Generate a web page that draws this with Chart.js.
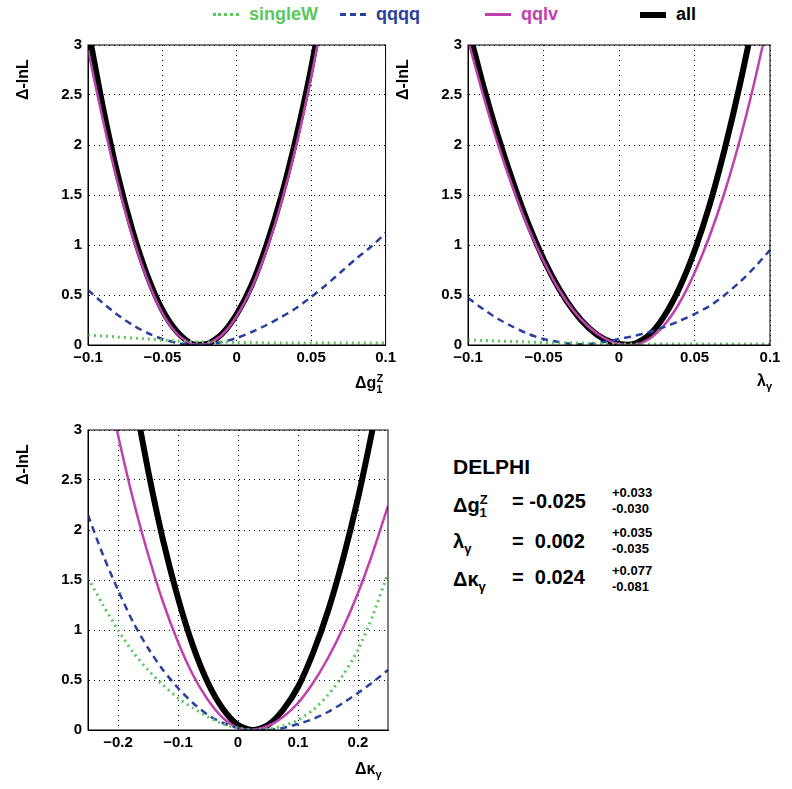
<!DOCTYPE html>
<html><head><meta charset="utf-8">
<script src="https://cdn.jsdelivr.net/npm/chart.js@4"></script>
<style>
body{margin:0;width:792px;height:789px;background:#fff;position:relative;font-family:"Liberation Sans",Arial,sans-serif;font-weight:bold;overflow:hidden}
canvas{position:absolute}
.t{position:absolute;font-weight:bold;color:#000;white-space:nowrap}
.yt{transform:rotate(-90deg);transform-origin:left top;font-size:16px}
.leg{position:absolute;top:4px;font-size:18px;display:flex;align-items:center}
.leg span.l{display:inline-block;width:26px;margin-right:10px}
</style></head><body>
<div class="leg" style="left:213px;color:#5ac85a"><span class="l" style="border-top:3px dotted #5ac85a"></span>singleW</div>
<div class="leg" style="left:340px;color:#2b3f9e"><span class="l" style="border-top:3px dashed #2b3f9e"></span>qqqq</div>
<div class="leg" style="left:485px;color:#c040b0"><span class="l" style="border-top:3px solid #c040b0"></span>qqlv</div>
<div class="leg" style="left:640px;color:#000"><span class="l" style="border-top:6px solid #000"></span>all</div>

<canvas id="c1" width="400" height="400" style="left:0;top:0"></canvas>
<canvas id="c2" width="412" height="400" style="left:380px;top:0"></canvas>
<canvas id="c3" width="400" height="400" style="left:0;top:385px"></canvas>

<div class="t yt" style="left:14px;top:100px">Δ-lnL</div>
<div class="t yt" style="left:394px;top:100px">Δ-lnL</div>
<div class="t yt" style="left:14px;top:485px">Δ-lnL</div>
<div class="t" style="left:355px;top:372px;font-size:16px">Δg<sub style="font-size:11px">1</sub><sup style="font-size:11px;margin-left:-6px">Z</sup></div>
<div class="t" style="left:757px;top:372px;font-size:16px">λ<sub style="font-size:11px">γ</sub></div>
<div class="t" style="left:355px;top:760px;font-size:16px">Δκ<sub style="font-size:11px">γ</sub></div>

<div class="t" style="left:453px;top:455px;font-size:21px">DELPHI</div>
<div class="t" style="left:453px;top:492px;font-size:20px">Δg<sub style="font-size:13px">1</sub><sup style="font-size:13px;margin-left:-7px">Z</sup></div>
<div class="t" style="left:512px;top:490px;font-size:20px">= -0.025</div>
<div class="t" style="left:612px;top:485px;font-size:13px;line-height:16px">+0.033<br>-0.030</div>
<div class="t" style="left:453px;top:530px;font-size:20px">λ<sub style="font-size:13px">γ</sub></div>
<div class="t" style="left:512px;top:530px;font-size:20px">=&nbsp; 0.002</div>
<div class="t" style="left:612px;top:525px;font-size:13px;line-height:16px">+0.035<br>-0.035</div>
<div class="t" style="left:453px;top:568px;font-size:20px">Δκ<sub style="font-size:13px">γ</sub></div>
<div class="t" style="left:512px;top:566px;font-size:20px">=&nbsp; 0.024</div>
<div class="t" style="left:612px;top:563px;font-size:13px;line-height:16px">+0.077<br>-0.081</div>

<script>
// x grids
const xA = [-0.1,-0.09,-0.08,-0.07,-0.06,-0.05,-0.04,-0.03,-0.02,-0.01,0,0.01,0.02,0.03,0.04,0.05,0.06,0.07,0.08,0.09,0.1];
const xK = [-0.25,-0.225,-0.2,-0.175,-0.15,-0.125,-0.1,-0.075,-0.05,-0.025,0,0.025,0.05,0.075,0.1,0.125,0.15,0.175,0.2,0.225,0.25];

// Δg1Z panel
const g1All    = [3.17,2.38,1.70,1.14,0.69,0.35,0.13,0.01,0.01,0.11,0.31,0.60,1.00,1.49,2.08,2.77,3.56,4.3,5,6,7];
const g1Qqlv   = [2.95,2.25,1.62,1.08,0.65,0.32,0.11,0.01,0.01,0.10,0.29,0.57,0.95,1.43,2.00,2.68,3.45,4.2,5,6,7];
const g1Qqqq   = [0.55,0.42,0.30,0.20,0.12,0.06,0.02,0.0,0.0,0.03,0.07,0.13,0.20,0.28,0.37,0.48,0.60,0.73,0.86,0.98,1.12];
const g1Single = [0.10,0.09,0.08,0.07,0.06,0.05,0.04,0.035,0.03,0.03,0.025,0.025,0.02,0.02,0.02,0.02,0.02,0.02,0.02,0.02,0.02];

// λγ panel
const lgAll    = [3.18,2.6,2.08,1.62,1.21,0.86,0.57,0.34,0.17,0.06,0.01,0.01,0.10,0.29,0.57,0.94,1.40,1.96,2.60,3.33,4.2];
const lgQqlv   = [3.05,2.5,2.0,1.56,1.17,0.84,0.56,0.34,0.18,0.07,0.01,0.0,0.06,0.20,0.42,0.72,1.09,1.53,2.05,2.65,3.32];
const lgQqqq   = [0.47,0.36,0.26,0.18,0.11,0.06,0.03,0.01,0.01,0.03,0.06,0.09,0.13,0.18,0.24,0.31,0.39,0.50,0.63,0.78,0.95];
const lgSingle = [0.05,0.045,0.04,0.035,0.03,0.025,0.02,0.02,0.015,0.015,0.01,0.01,0.01,0.01,0.01,0.01,0.01,0.01,0.01,0.01,0.01];

// Δκγ panel
const kgAll    = [6,4.5,4.2,3.40,2.60,1.90,1.32,0.84,0.47,0.21,0.05,0.0,0.05,0.20,0.43,0.77,1.19,1.71,2.32,3.03,3.8];
const kgQqlv   = [4.4,3.65,2.95,2.31,1.76,1.28,0.88,0.55,0.30,0.12,0.02,0.0,0.04,0.13,0.27,0.47,0.72,1.02,1.37,1.78,2.24];
const kgQqqq   = [2.15,1.75,1.40,1.08,0.82,0.60,0.42,0.27,0.15,0.07,0.02,0.0,0.0,0.02,0.06,0.11,0.18,0.27,0.37,0.48,0.60];
const kgSingle = [1.52,1.25,1.0,0.78,0.60,0.45,0.32,0.22,0.13,0.06,0.02,0.0,0.01,0.04,0.10,0.20,0.35,0.55,0.80,1.15,1.57];

const yTicks = [0,0.5,1,1.5,2,2.5,3];
const xTicksA = [-0.1,-0.05,0,0.05,0.1];
const xTicksK = [-0.2,-0.1,0,0.1,0.2];

const pts = (xs, ys) => xs.map((x, i) => ({ x, y: ys[i] }));
const font = { family: "Liberation Sans", size: 15, weight: "bold" };

function ds(xs, ys, color, w, dash) {
  return { data: pts(xs, ys), borderColor: color, borderWidth: w, borderDash: dash,
           showLine: true, pointRadius: 0, tension: 0.25, fill: false };
}

function makeChart(id, xs, sets, xmin, xmax, xticks, padRight) {
  new Chart(document.getElementById(id), {
    type: "scatter",
    data: { datasets: [
      ds(xs, sets[0], "#5ac85a", 3, [2, 4]),
      ds(xs, sets[1], "#2b3f9e", 2.5, [7, 5]),
      ds(xs, sets[2], "#c040b0", 2.5, []),
      ds(xs, sets[3], "#000", 6, []),
    ] },
    options: {
      responsive: false, animation: false,
      layout: { padding: { top: 45, right: padRight, left: 0, bottom: 0 } },
      plugins: { legend: { display: false }, tooltip: { enabled: false } },
      scales: {
        x: { type: "linear", min: xmin, max: xmax,
             afterBuildTicks: s => { s.ticks = xticks.map(v => ({ value: v })); },
             afterFit: s => { s.height = 55; },
             ticks: { font, color: "#000", padding: 4, callback: v => String(v).replace("-", "\u2212") },
             grid: { color: "#000", lineWidth: 1, tickLength: 0 },
             border: { color: "#000", width: 1, dash: [1, 4] } },
        y: { min: 0, max: 3,
             afterBuildTicks: s => { s.ticks = yTicks.map(v => ({ value: v })); },
             afterFit: s => { s.width = 88; },
             ticks: { font, color: "#000", padding: 6, callback: v => String(v) },
             grid: { color: "#000", lineWidth: 1, tickLength: 0 },
             border: { color: "#000", width: 1, dash: [1, 4] } }
      }
    },
    plugins: [{
      id: "frame",
      afterDraw(c) {
        const a = c.chartArea, g = c.ctx;
        g.save(); g.strokeStyle = "#000"; g.lineWidth = 1; g.setLineDash([]);
        g.strokeRect(a.left, a.top, a.right - a.left, a.bottom - a.top);
        g.restore();
      }
    }]
  });
}

makeChart("c1", xA, [g1Single, g1Qqqq, g1Qqlv, g1All], -0.1, 0.1, xTicksA, 12);
makeChart("c2", xA, [lgSingle, lgQqqq, lgQqlv, lgAll], -0.1, 0.1, xTicksA, 22);
makeChart("c3", xK, [kgSingle, kgQqqq, kgQqlv, kgAll], -0.25, 0.25, xTicksK, 12);
</script>
</body></html>
